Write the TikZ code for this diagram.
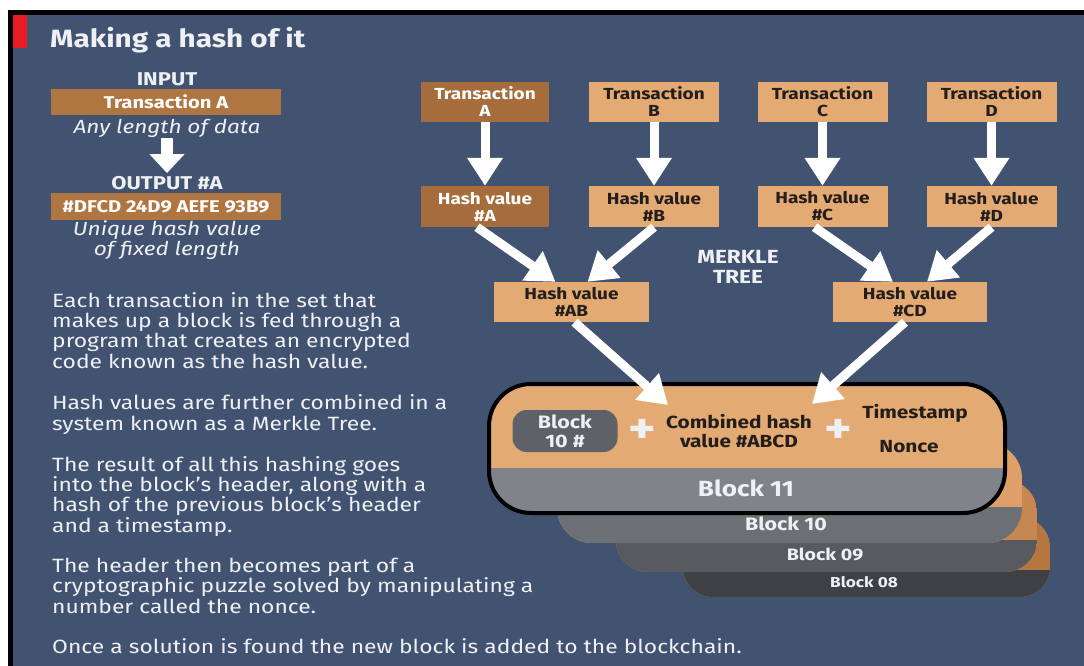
\documentclass[tikz,border=0pt]{standalone}
\usepackage{fontspec}
\setmainfont{Fira Sans}[FakeStretch=1.19]
\usetikzlibrary{arrows.meta}
\definecolor{bg}{RGB}{66,82,113}
\definecolor{tan}{RGB}{228,170,115}
\definecolor{brown}{RGB}{166,108,60}
\definecolor{lbrown}{RGB}{176,118,66}
\definecolor{redbar}{RGB}{232,28,36}
\definecolor{txt}{RGB}{238,240,244}
\definecolor{dark}{RGB}{35,30,28}
\definecolor{g11}{RGB}{128,131,137}
\definecolor{g10}{RGB}{108,111,116}
\definecolor{g09}{RGB}{88,90,95}
\definecolor{g08}{RGB}{62,64,68}
\definecolor{t10}{RGB}{222,160,104}
\definecolor{t09}{RGB}{200,134,80}
\definecolor{t08}{RGB}{182,118,64}
\definecolor{inbox}{RGB}{94,97,103}
\tikzset{
  tbox/.style={rectangle, inner sep=0pt, minimum width=130pt, minimum height=40pt, align=center,
    font=\bfseries\fontsize{16}{17}\selectfont, text=dark, fill=tan},
  darkbox/.style={tbox, fill=brown, text=white},
  lbox/.style={rectangle, inner sep=0pt, minimum width=230pt, minimum height=26pt,
    font=\bfseries\fontsize{17}{18}\selectfont, text=white, fill=lbrown},
  bigarrow/.style={draw=white, line width=9pt, -{Triangle[width=34pt,length=28pt]}},
  smallarrow/.style={draw=white, line width=12pt, -{Triangle[width=34pt,length=19pt]}},
  head/.style={font=\bfseries\fontsize{18.5}{20}\selectfont, text=txt, inner sep=0pt},
  ital/.style={font=\itshape\fontsize{19}{16}\selectfont, text=txt, inner sep=0pt, align=center},
  para/.style={font=\fontsize{19.2}{20.3}\selectfont, text=txt, inner sep=0pt, align=left, anchor=base west},
  blabel/.style={font=\bfseries\fontsize{#1}{#1}\selectfont, text=txt, inner sep=0pt},
  darktext/.style={font=\bfseries\fontsize{17.5}{19}\selectfont, text=dark, inner sep=0pt, align=center},
}
\begin{document}
\begin{tikzpicture}[x=1pt,y=-1pt]
\useasboundingbox (0,0) rectangle (1084,666);
\fill[white] (0,0) rectangle (1084,666);
\fill[black] (8,10) rectangle (1084,666);
\fill[bg] (13,15) rectangle (1084,666);
\fill[redbar] (13,15) rectangle (27,48);

\node[anchor=base west, font=\bfseries\fontsize{25}{28}\selectfont, text=txt, inner sep=0pt] (title) at (50,48) {Making a hash of it};

% left column
\node[head] (input) at (167,79) {INPUT};
\node[lbox] (intx) at (166,102) {Transaction A};
\node[ital] (anylen) at (167,128) {Any length of data};
\node[head] (output) at (167,183) {OUTPUT \#A};
\node[lbox, minimum height=27pt] (outhash) at (166,206.5) {\#DFCD 24D9 AEFE 93B9};
\node[ital] (uniq) at (167,240) {Unique hash value\\of fixed length};
\draw[smallarrow, shorten <=1pt, shorten >=3pt] (anylen) -- (output);

% paragraphs (anchored at the baseline of their last line)
\node[para] (p1) at (52,368) {Each transaction in the set that\\makes up a block is fed through a\\program that creates an encrypted\\code known as the hash value.};
\node[para] (p2) at (52,430) {Hash values are further combined in a\\system known as a Merkle Tree.};
\node[para] (p3) at (52,532) {The result of all this hashing goes\\into the block’s header, along with a\\hash of the previous block’s header\\and a timestamp.};
\node[para] (p4) at (52,613) {The header then becomes part of a\\cryptographic puzzle solved by manipulating a\\number called the nonce.};
\node[para] (p5) at (52,653) {Once a solution is found the new block is added to the blockchain.};

% merkle tree
\node[darkbox, minimum width=128pt] (tA) at (485,102) {Transaction\\A};
\node[tbox] (tB) at (654,102) {Transaction\\B};
\node[tbox] (tC) at (822.5,102) {Transaction\\C};
\node[tbox] (tD) at (991.5,102) {Transaction\\D};
\node[darkbox, minimum width=128pt, minimum height=41pt] (hA) at (485,206.5) {Hash value\\\#A};
\node[tbox, minimum height=41pt] (hB) at (654,206.5) {Hash value\\\#B};
\node[tbox, minimum height=41pt] (hC) at (822.5,206.5) {Hash value\\\#C};
\node[tbox, minimum height=41pt] (hD) at (991.5,206.5) {Hash value\\\#D};
\node[tbox, minimum width=155pt] (hAB) at (571.5,302) {Hash value\\\#AB};
\node[tbox, minimum width=154pt] (hCD) at (910,302) {Hash value\\\#CD};
\node[head, align=center, font=\bfseries\fontsize{19}{20}\selectfont] (merkle) at (738,267) {MERKLE\\TREE};

\foreach \t/\h in {tA/hA,tB/hB,tC/hC,tD/hD}
  \draw[bigarrow] (\t) -- (\h);
\draw[bigarrow] ([xshift=-8pt]hA.south) -- ([xshift=-16pt]hAB.north);
\draw[bigarrow] ([xshift=0pt]hB.south) -- ([xshift=16pt]hAB.north);
\draw[bigarrow] ([xshift=-8pt]hC.south) -- ([xshift=-17pt]hCD.north);
\draw[bigarrow] ([xshift=0pt]hD.south) -- ([xshift=17pt]hCD.north);

% block stack
\begin{scope}
\clip[rounded corners=30pt] (683,517) rectangle (1050,597);
\fill[t08] (683,517) rectangle (1050,597);
\fill[g08] (683,570) rectangle (1050,597);
\end{scope}
\node[blabel=14.5] (b08) at (864,582) {Block 08};
\begin{scope}
\clip[rounded corners=32pt] (616,480) rectangle (1037,572);
\fill[t09] (616,480) rectangle (1037,572);
\fill[g09] (616,540) rectangle (1037,572);
\end{scope}
\node[blabel=16.5] (b09) at (825,554) {Block 09};
\begin{scope}
\clip[rounded corners=35pt] (557,443) rectangle (1022,543);
\fill[t10] (557,443) rectangle (1022,543);
\fill[g10] (557,507) rectangle (1022,543);
\end{scope}
\node[blabel=18] (b10) at (786,524) {Block 10};
\begin{scope}
\clip[rounded corners=42pt] (489,384) rectangle (1005,513);
\fill[tan] (489,384) rectangle (1005,513);
\fill[g11] (489,468) rectangle (1005,513);
\end{scope}
\draw[black, line width=4pt, rounded corners=42pt] (489,384) rectangle (1005,513);
\node[blabel=22] (b11) at (746,488) {Block 11};

\node[rectangle, rounded corners=14pt, fill=inbox, minimum width=105pt, minimum height=42pt, inner sep=0pt,
  align=center, font=\bfseries\fontsize{18}{19}\selectfont, text=txt] (prev) at (565,431) {Block\\10 \#};
\node[blabel=44] (plus1) at (642,431) {+};
\node[darktext] (comb) at (739,431) {Combined hash\\value \#ABCD};
\node[blabel=44] (plus2) at (838,431) {+};
\node[darktext] (ts) at (915,413) {Timestamp};
\node[darktext] (nonce) at (909,447) {Nonce};

\coordinate (tipAB) at (668,405);
\coordinate (tipCD) at (812,404);
\draw[bigarrow] ([xshift=3pt]hAB.south) -- (tipAB);
\draw[bigarrow] ([xshift=-5pt]hCD.south) -- (tipCD);
\end{tikzpicture}
\end{document}
